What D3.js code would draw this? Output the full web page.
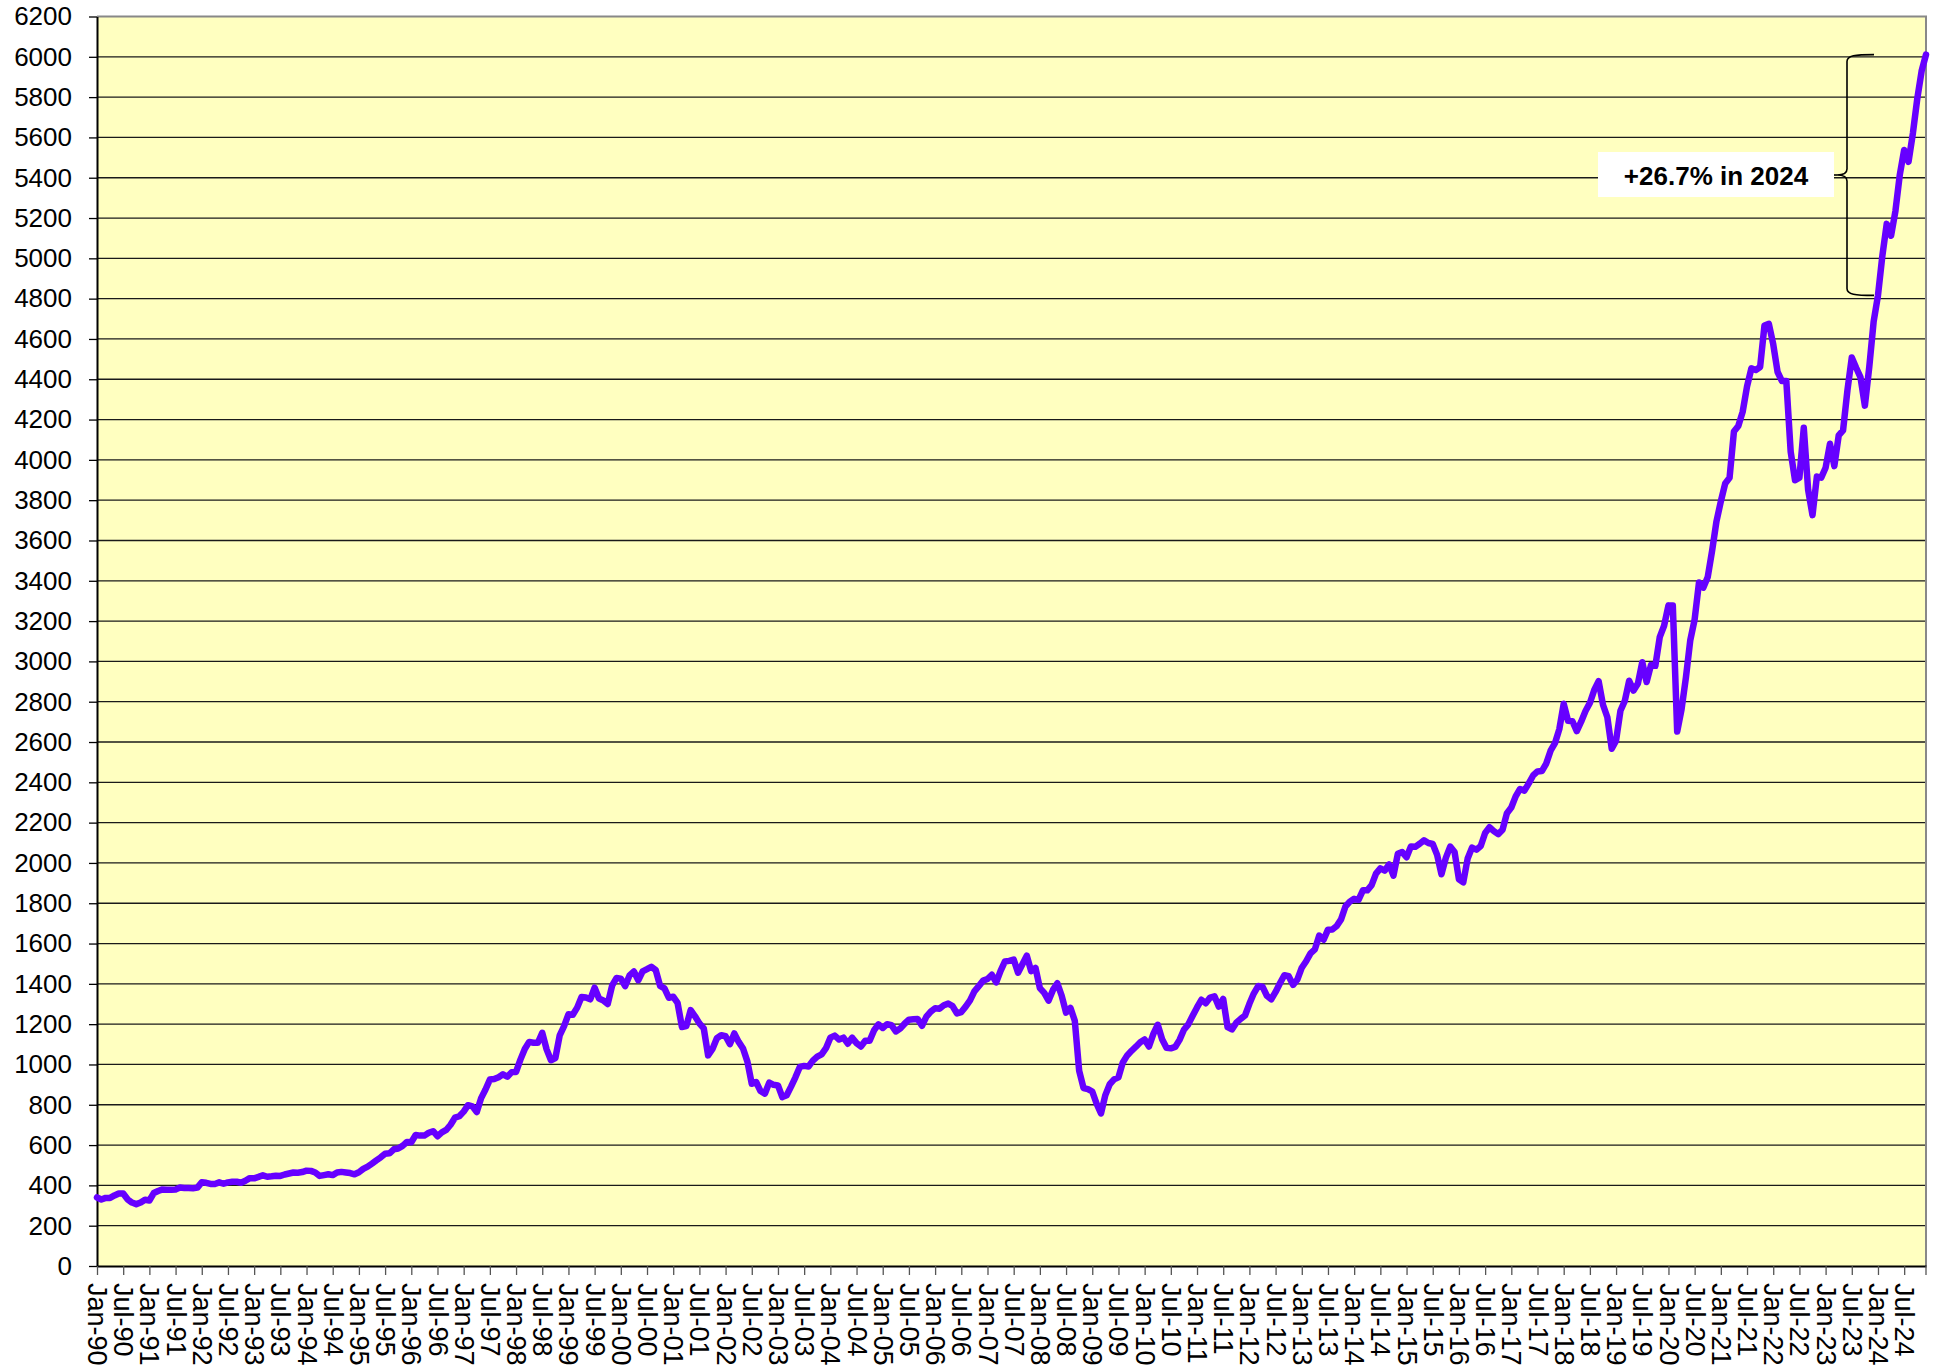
<!DOCTYPE html>
<html>
<head>
<meta charset="utf-8">
<script src="https://cdn.jsdelivr.net/npm/d3@7"></script>
<style>
  body { margin: 0; background: #fff; }
  svg text { font-family: Arial, "Liberation Sans", sans-serif; fill: #000; }
</style>
</head>
<body>
<div id="chart"></div>
<script>
// Monthly average index level, Jan-1990 .. Dec-2024 (one row per year)
var sp1990s = [
  340, 330, 338, 338, 350, 360, 360, 331, 315, 307, 315, 329,
  325, 362, 372, 380, 378, 378, 380, 389, 387, 387, 386, 389,
  416, 413, 407, 407, 415, 408, 415, 418, 418, 413, 423, 436,
  435, 442, 450, 443, 445, 448, 447, 454, 459, 464, 463, 466,
  473, 472, 464, 447, 451, 455, 451, 464, 467, 464, 461, 455,
  465, 482, 493, 508, 524, 539, 557, 559, 579, 583, 596, 615,
  614, 650, 647, 647, 661, 669, 644, 663, 675, 701, 736, 743,
  766, 798, 792, 764, 833, 876, 925, 928, 937, 951, 939, 962,
  963, 1024, 1077, 1112, 1108, 1108, 1157, 1075, 1021, 1032, 1144, 1190,
  1249, 1247, 1282, 1335, 1332, 1323, 1381, 1327, 1318, 1300, 1391, 1429
];
var sp2000s = [
  1426, 1389, 1442, 1461, 1418, 1462, 1473, 1485, 1468, 1390, 1378, 1331,
  1336, 1306, 1186, 1190, 1270, 1239, 1204, 1179, 1045, 1077, 1130, 1145,
  1140, 1101, 1154, 1112, 1079, 1014, 904, 913, 868, 855, 910, 899,
  896, 838, 847, 890, 936, 988, 993, 990, 1019, 1039, 1050, 1081,
  1133, 1143, 1124, 1133, 1103, 1133, 1106, 1089, 1118, 1118, 1169, 1199,
  1181, 1200, 1195, 1164, 1178, 1202, 1222, 1224, 1226, 1192, 1237, 1262,
  1279, 1277, 1294, 1302, 1290, 1253, 1260, 1287, 1318, 1363, 1389, 1416,
  1424, 1445, 1407, 1464, 1511, 1514, 1521, 1455, 1497, 1540, 1463, 1479,
  1379, 1355, 1317, 1370, 1403, 1341, 1257, 1281, 1217, 969, 883, 878,
  866, 805, 757, 848, 902, 926, 936, 1010, 1045, 1068, 1088, 1110
];
var sp2010s = [
  1124, 1089, 1152, 1197, 1125, 1083, 1080, 1087, 1122, 1172, 1199, 1242,
  1283, 1321, 1304, 1332, 1338, 1287, 1325, 1185, 1174, 1207, 1226, 1243,
  1301, 1352, 1389, 1386, 1341, 1323, 1360, 1403, 1443, 1438, 1395, 1422,
  1480, 1512, 1551, 1571, 1640, 1619, 1669, 1670, 1687, 1720, 1784, 1808,
  1822, 1817, 1864, 1864, 1890, 1947, 1973, 1962, 1993, 1937, 2045, 2054,
  2028, 2082, 2080, 2095, 2112, 2099, 2094, 2040, 1944, 2025, 2081, 2054,
  1919, 1904, 2022, 2076, 2066, 2084, 2149, 2177, 2158, 2143, 2165, 2247,
  2275, 2330, 2367, 2359, 2395, 2434, 2454, 2456, 2493, 2557, 2594, 2664,
  2790, 2705, 2703, 2654, 2701, 2754, 2794, 2858, 2902, 2785, 2723, 2567,
  2607, 2755, 2804, 2904, 2855, 2890, 2996, 2898, 2982, 2978, 3120, 3177
];
var sp2020s = [
  3278, 3277, 2652, 2762, 2920, 3105, 3208, 3392, 3366, 3419, 3549, 3695,
  3794, 3883, 3911, 4141, 4168, 4238, 4364, 4454, 4446, 4461, 4667, 4675,
  4574, 4436, 4391, 4391, 4040, 3899, 3912, 4159, 3851, 3726, 3917, 3912,
  3961, 4080, 3969, 4121, 4146, 4345, 4508, 4457, 4409, 4269, 4460, 4685,
  4816, 5012, 5171, 5112, 5235, 5415, 5538, 5479, 5621, 5792, 5930, 6011
];

var startDate = new Date(1990, 0, 1);
var yTicks = d3.range(0, 6201, 200);
var annotationText = '+26.7% in 2024';
// annotated year: brace runs from its first to its last month
var annotationFrom = 408;
var annotationTo = 419;

var values = sp1990s.concat(sp2000s, sp2010s, sp2020s);
var monthLabel = d3.timeFormat('%b-%y');

// Size of the picture and the plot area inside it
var width = 1938;
var height = 1370;
var margin = { top: 16.5, left: 97, right: 12, bottom: 104 };
var plotW = width - margin.left - margin.right;
var plotH = height - margin.top - margin.bottom;

var x = d3.scaleLinear()
  .domain([0, values.length - 1])
  .range([0, plotW]);

var y = d3.scaleLinear()
  .domain([0, 6200])
  .range([plotH, 0]);

var svg = d3.select('#chart').append('svg')
  .attr('width', width)
  .attr('height', height);

var g = svg.append('g')
  .attr('transform', 'translate(' + margin.left + ',' + margin.top + ')');

// plot background
g.append('rect')
  .attr('width', plotW)
  .attr('height', plotH)
  .attr('fill', '#FFFFC0');

// horizontal gridlines
g.selectAll('.grid').data(yTicks.slice(1, -1))
  .enter().append('line')
  .attr('class', 'grid')
  .attr('x1', 0)
  .attr('x2', plotW)
  .attr('y1', function (d) { return y(d); })
  .attr('y2', function (d) { return y(d); })
  .attr('stroke', '#1a1a1a')
  .attr('stroke-width', 1.3);

// grey frame on top / right
g.append('path')
  .attr('d', 'M0,0H' + plotW + 'V' + plotH)
  .attr('fill', 'none')
  .attr('stroke', '#888')
  .attr('stroke-width', 2);

// y axis
var yAxis = d3.axisLeft(y)
  .tickValues(yTicks)
  .tickSize(8)
  .tickSizeOuter(0)
  .tickPadding(17)
  .tickFormat(d3.format('d'));

var yG = g.append('g').call(yAxis);
yG.select('.domain').attr('stroke', '#000').attr('stroke-width', 2);
yG.selectAll('.tick line').attr('stroke', '#000').attr('stroke-width', 1.3);
yG.selectAll('.tick text').style('font-size', '26px');

// x axis: a tick every six months, labels run downwards
var xAxis = d3.axisBottom(x)
  .tickValues(d3.range(0, values.length, 6))
  .tickSize(9)
  .tickSizeOuter(0)
  .tickFormat(function (i) { return monthLabel(d3.timeMonth.offset(startDate, i)); });

var xG = g.append('g')
  .attr('transform', 'translate(0,' + plotH + ')')
  .call(xAxis);
xG.select('.domain').attr('stroke', '#000').attr('stroke-width', 2);
xG.selectAll('.tick line').attr('stroke', '#555').attr('stroke-width', 1.3);
xG.selectAll('.tick text')
  .attr('transform', 'rotate(90)')
  .attr('x', 17)
  .attr('y', 0)
  .attr('dy', '0.35em')
  .style('text-anchor', 'start')
  .style('font-size', '27px');

// closing tick at the end of the axis
xG.append('line')
  .attr('x1', x(values.length - 1))
  .attr('x2', x(values.length - 1))
  .attr('y1', 0)
  .attr('y2', 9)
  .attr('stroke', '#555')
  .attr('stroke-width', 1.3);

// the series
var line = d3.line()
  .x(function (d, i) { return x(i); })
  .y(function (d) { return y(d); });

g.append('path')
  .datum(values)
  .attr('d', line)
  .attr('fill', 'none')
  .attr('stroke', '#6600FF')
  .attr('stroke-width', 6.5)
  .attr('stroke-linejoin', 'round')
  .attr('stroke-linecap', 'round');

// annotation: brace over the annotated year plus a label
var yTop = y(values[annotationTo]);
var yBot = y(values[annotationFrom]);
var yMid = (yTop + yBot) / 2;
var bx = 1750;   // vertical stroke of the brace (plot coords)
var hx = 1777;   // end of the hooks
var tx = 1740;   // tip of the brace

var ann = g.append('g');

ann.append('path')
  .attr('d',
    'M' + hx + ',' + yTop +
    'C' + (bx + 8) + ',' + yTop + ' ' + bx + ',' + (yTop + 1) + ' ' + bx + ',' + (yTop + 7) +
    'L' + bx + ',' + (yMid - 6) +
    'C' + bx + ',' + (yMid - 1) + ' ' + (tx + 4) + ',' + yMid + ' ' + tx + ',' + yMid +
    'C' + (tx + 4) + ',' + yMid + ' ' + bx + ',' + (yMid + 1) + ' ' + bx + ',' + (yMid + 6) +
    'L' + bx + ',' + (yBot - 7) +
    'C' + bx + ',' + (yBot - 1) + ' ' + (bx + 8) + ',' + yBot + ' ' + hx + ',' + yBot)
  .attr('fill', 'none')
  .attr('stroke', '#000')
  .attr('stroke-width', 1.6);

ann.append('line')
  .attr('x1', 1721)
  .attr('x2', tx)
  .attr('y1', yMid)
  .attr('y2', yMid)
  .attr('stroke', '#000')
  .attr('stroke-width', 1.6);

ann.append('rect')
  .attr('x', 1501)
  .attr('y', yMid - 23)
  .attr('width', 236)
  .attr('height', 45)
  .attr('fill', '#fff');

ann.append('text')
  .attr('x', 1619)
  .attr('y', yMid + 10)
  .style('text-anchor', 'middle')
  .style('font-size', '26px')
  .style('font-weight', 'bold')
  .text(annotationText);
</script>
</body>
</html>
